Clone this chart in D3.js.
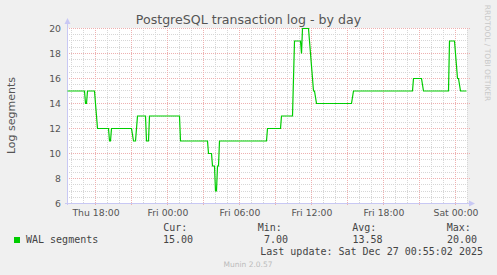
<!DOCTYPE html>
<html>
<head>
<meta charset="utf-8">
<script src="https://cdn.jsdelivr.net/npm/d3@7"></script>
<style>
  html, body { margin: 0; padding: 0; background: #f0f0f0; }
  svg { display: block; }
  text { font-family: "DejaVu Sans", sans-serif; }
  .mono { font-family: "DejaVu Sans Mono", monospace; }
</style>
</head>
<body>
<svg id="chart" width="497" height="275"></svg>
<script>
// ---- data ----
const title = "PostgreSQL transaction log - by day";
const yLabel = "Log segments";
const seriesName = "WAL segments";
const times = [
  "2025-12-25T15:40","2025-12-25T17:05","2025-12-25T17:10","2025-12-25T17:15","2025-12-25T17:20",
  "2025-12-25T17:55","2025-12-25T18:10","2025-12-25T19:05","2025-12-25T19:10","2025-12-25T19:15",
  "2025-12-25T19:20","2025-12-25T21:00","2025-12-25T21:10","2025-12-25T21:20","2025-12-25T21:30",
  "2025-12-25T22:10","2025-12-25T22:15","2025-12-25T22:25","2025-12-25T22:30",
  "2025-12-26T01:00","2025-12-26T01:05","2025-12-26T03:20","2025-12-26T03:25","2025-12-26T03:40",
  "2025-12-26T03:45","2025-12-26T03:55","2025-12-26T04:00","2025-12-26T04:05","2025-12-26T04:10",
  "2025-12-26T04:15","2025-12-26T04:20","2025-12-26T08:15","2025-12-26T08:20","2025-12-26T09:25",
  "2025-12-26T09:30","2025-12-26T10:25","2025-12-26T10:35","2025-12-26T11:05","2025-12-26T11:10",
  "2025-12-26T11:15","2025-12-26T11:45","2025-12-26T12:10","2025-12-26T12:15","2025-12-26T12:25",
  "2025-12-26T15:20","2025-12-26T15:30","2025-12-26T20:25","2025-12-26T20:30","2025-12-26T21:10",
  "2025-12-26T21:20","2025-12-26T23:25","2025-12-26T23:30","2025-12-26T23:55",
  "2025-12-27T00:10","2025-12-27T00:15","2025-12-27T00:25","2025-12-27T00:55"
];
const values = [
  15,15,14,14,15,
  15,12,12,11,11,
  12,12,11,11,13,
  13,11,11,13,
  13,11,11,10,10,
  9,9,7,7,9,
  9,11,11,12,12,
  13,13,19,19,18,
  20,20,15,15,14,
  14,15,15,16,16,
  15,15,19,19,
  16,16,15,15
];
const yTicks = [6, 8, 10, 12, 14, 16, 18, 20];
const statLabels = ["Cur:", "Min:", "Avg:", "Max:"];
const statValues = ["15.00", "7.00", "13.58", "20.00"];
const lastUpdate = "Last update: Sat Dec 27 00:55:02 2025";
const footer = "Munin 2.0.57";
const sideText = "RRDTOOL / TOBI OETIKER";
const timeStart = "2025-12-25T15:40";
const timeEnd = "2025-12-27T01:00";

// ---- drawing ----
const parse = d3.utcParse("%Y-%m-%dT%H:%M");
const data = times.map((t, i) => ({ t: parse(t), v: values[i] }));

const L = 67, R = 467, T = 28, B = 203;
const svg = d3.select("#chart");

const x = d3.scaleUtc().domain([parse(timeStart), parse(timeEnd)]).range([L + 0.5, R + 0.5]);
const y = d3.scaleLinear().domain([6, 20]).range([B + 0.5, T + 0.5]);

// plot background
svg.append("rect").attr("x", L).attr("y", T).attr("width", R - L).attr("height", B - T).attr("fill", "#ffffff");

const grid = svg.append("g");
const minorColor = "#d6d6d6", majorColor = "#eeb0b0";
// minor horizontal grid every 0.5
d3.range(6, 20.01, 0.5).filter(v => v % 2 !== 0).forEach(v => {
  const yy = Math.round(y(v) - 0.5) + 0.5;
  grid.append("line").attr("x1", L).attr("x2", R).attr("y1", yy).attr("y2", yy)
    .attr("stroke", minorColor).attr("stroke-dasharray", "1,1");
});
// minor vertical grid every hour
x.ticks(d3.utcHour.every(1)).forEach(d => {
  if (d.getUTCHours() % 3 === 0) return;
  const xx = Math.round(x(d) - 0.5) + 0.5;
  grid.append("line").attr("x1", xx).attr("x2", xx).attr("y1", T).attr("y2", B)
    .attr("stroke", minorColor).attr("stroke-dasharray", "1,1");
});
// major horizontal grid
yTicks.forEach(v => {
  const yy = Math.round(y(v) - 0.5) + 0.5;
  grid.append("line").attr("x1", L).attr("x2", R + 3).attr("y1", yy).attr("y2", yy)
    .attr("stroke", majorColor).attr("stroke-dasharray", "1,1");
});
// major vertical grid every 3 hours
x.ticks(d3.utcHour.every(3)).forEach(d => {
  const xx = Math.round(x(d) - 0.5) + 0.5;
  grid.append("line").attr("x1", xx).attr("x2", xx).attr("y1", T).attr("y2", B + 3)
    .attr("stroke", majorColor).attr("stroke-dasharray", "1,1");
});

// y axis labels
const yAxis = d3.axisLeft(y).tickValues(yTicks).tickSize(0).tickPadding(0).tickFormat(d3.format("d"));
const gy = svg.append("g").attr("transform", `translate(${L - 6},0)`).call(yAxis);
gy.select(".domain").remove();
gy.selectAll("text").attr("font-family", "DejaVu Sans").attr("font-size", "9.3px").attr("fill", "#555");

// x axis labels
const xAxis = d3.axisBottom(x).ticks(d3.utcHour.every(6)).tickSize(0).tickPadding(0)
  .tickFormat(d3.utcFormat("%a %H:%M"));
const gx = svg.append("g").attr("transform", `translate(0,${B + 6})`).call(xAxis);
gx.select(".domain").remove();
gx.selectAll("text").attr("font-family", "DejaVu Sans").attr("font-size", "9.3px").attr("fill", "#555");

// axes lines with arrows
const axisColor = "#c8c8f4";
svg.append("line").attr("x1", L + 0.5).attr("x2", L + 0.5).attr("y1", B + 2).attr("y2", T - 6).attr("stroke", axisColor);
svg.append("path").attr("d", `M${L - 2.5},${T - 4} L${L + 3.5},${T - 4} L${L + 0.5},${T - 10} Z`).attr("fill", axisColor);
svg.append("line").attr("x1", L - 2).attr("x2", R + 4).attr("y1", B + 0.5).attr("y2", B + 0.5).attr("stroke", axisColor);
svg.append("path").attr("d", `M${R + 2},${B - 2.5} L${R + 2},${B + 3.5} L${R + 8},${B + 0.5} Z`).attr("fill", axisColor);

// series line
const line = d3.line().x(d => x(d.t)).y(d => y(d.v)).curve(d3.curveLinear);
svg.append("path").datum(data).attr("d", line).attr("fill", "none")
  .attr("stroke", "#00cc00").attr("stroke-width", 1.2).attr("stroke-linejoin", "miter");

// title
svg.append("text").attr("x", 248.5).attr("y", 24).attr("text-anchor", "middle")
  .attr("font-size", "12.6px").attr("fill", "#555").text(title);

// y label
svg.append("text").attr("transform", `translate(15,${(T + B) / 2}) rotate(-90)`).attr("text-anchor", "middle")
  .attr("font-size", "11px").attr("fill", "#555").text(yLabel);

// side text
svg.append("text").attr("transform", `translate(485,53) rotate(90)`).attr("text-anchor", "middle")
  .attr("font-size", "7.5px").attr("fill", "#c8c8c8").text(sideText);

// legend
svg.append("rect").attr("x", 14).attr("y", 237).attr("width", 6).attr("height", 6).attr("fill", "#00cc00");
svg.append("text").attr("class", "mono").attr("x", 26).attr("y", 243).attr("font-size", "10px").attr("fill", "#444").text(seriesName);
const labelX = [163.3, 257.7, 352.3, 446.7];
const valueRight = [193, 288, 382.5, 477];
statLabels.forEach((s, i) => {
  svg.append("text").attr("class", "mono").attr("x", labelX[i]).attr("y", 231).attr("font-size", "10px").attr("fill", "#444").text(s);
  svg.append("text").attr("class", "mono").attr("x", valueRight[i]).attr("y", 243).attr("text-anchor", "end")
    .attr("font-size", "10px").attr("fill", "#444").text(statValues[i]);
});
svg.append("text").attr("class", "mono").attr("x", 483).attr("y", 255).attr("text-anchor", "end")
  .attr("font-size", "10px").attr("fill", "#444").text(lastUpdate);
svg.append("text").attr("x", 248).attr("y", 267).attr("text-anchor", "middle")
  .attr("font-size", "7.5px").attr("fill", "#bbbbbb").text(footer);
</script>
</body>
</html>
